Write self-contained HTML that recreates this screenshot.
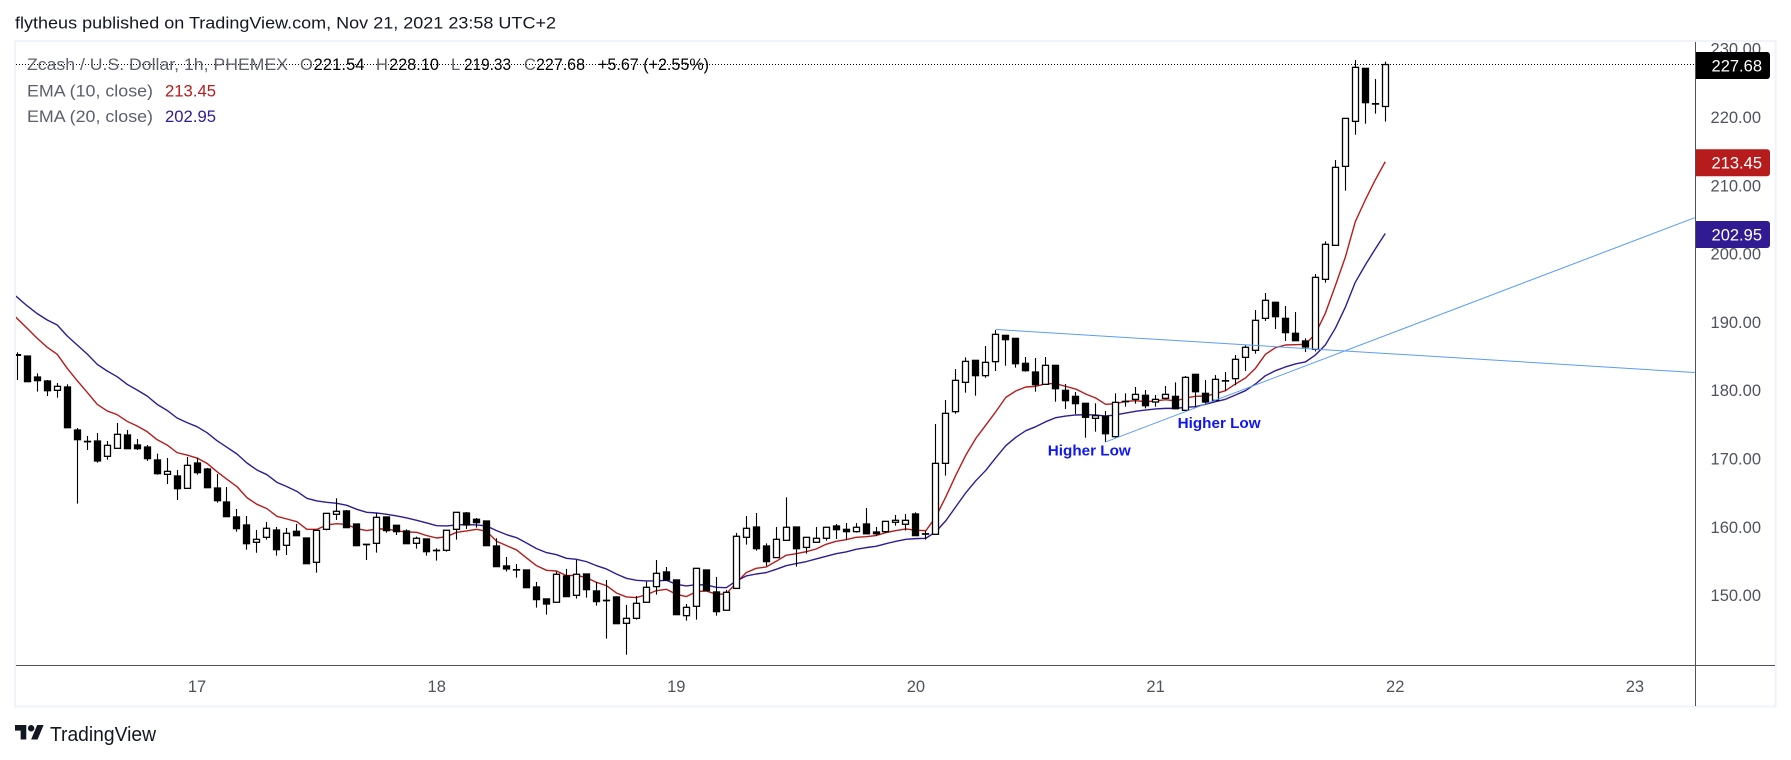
<!DOCTYPE html>
<html lang="en">
<head>
<meta charset="utf-8">
<title>ZEC/USD chart</title>
<style>
html,body{margin:0;padding:0;background:#fff;width:1791px;height:760px;overflow:hidden}
svg{display:block;position:absolute;left:0;top:0}
text{font-family:"Liberation Sans",sans-serif}
</style>
</head>
<body>
<svg id="chart" xmlns="http://www.w3.org/2000/svg" width="1791" height="760" viewBox="0 0 1791 760">
  <defs><clipPath id="pane-clip"><rect x="16" y="42" width="1679" height="623"/></clipPath></defs>
  <text x="15" y="28.5" font-size="16.5" fill="#131722" textLength="541" lengthAdjust="spacingAndGlyphs">flytheus published on TradingView.com, Nov 21, 2021 23:58 UTC+2</text>
  <rect x="15" y="41" width="1760.5" height="665.5" fill="none" stroke="#f0f3fa" stroke-width="2"/>
  <g id="pane" clip-path="url(#pane-clip)"></g>
  <line x1="16" y1="665.5" x2="1775" y2="665.5" stroke="#50535e" stroke-width="1"/>
  <line x1="1695.5" y1="42" x2="1695.5" y2="706" stroke="#50535e" stroke-width="1"/>
  <g id="axis-labels"></g>
  <g id="tags"></g>
  <g font-size="16.5">
    <text x="27" y="70" fill="#5d606b" textLength="261" lengthAdjust="spacingAndGlyphs">Zcash / U.S. Dollar, 1h, PHEMEX</text>
    <text x="300" y="70" fill="#5d606b">O</text>
    <text x="313.5" y="70" fill="#000" textLength="51" lengthAdjust="spacingAndGlyphs">221.54</text>
    <text x="376" y="70" fill="#5d606b">H</text>
    <text x="389" y="70" fill="#000" textLength="50" lengthAdjust="spacingAndGlyphs">228.10</text>
    <text x="451" y="70" fill="#5d606b">L</text>
    <text x="464" y="70" fill="#000" textLength="47" lengthAdjust="spacingAndGlyphs">219.33</text>
    <text x="524" y="70" fill="#5d606b">C</text>
    <text x="536" y="70" fill="#000" textLength="49" lengthAdjust="spacingAndGlyphs">227.68</text>
    <text x="598" y="70" fill="#000" textLength="111" lengthAdjust="spacingAndGlyphs">+5.67 (+2.55%)</text>
    <text x="27" y="96.5" fill="#5d606b" textLength="126" lengthAdjust="spacingAndGlyphs">EMA (10, close)</text>
    <text x="165" y="96.5" fill="#b71c1c" textLength="51" lengthAdjust="spacingAndGlyphs">213.45</text>
    <text x="27" y="122" fill="#5d606b" textLength="126" lengthAdjust="spacingAndGlyphs">EMA (20, close)</text>
    <text x="165" y="122" fill="#311b92" textLength="51" lengthAdjust="spacingAndGlyphs">202.95</text>
  </g>
  <g>
    <g transform="translate(15 721.8) scale(0.806)" fill="#131722">
      <path d="M14 22H7V11H0V4h14v18z"/><path d="M28 22h-8l7.5-18h8L28 22z"/><circle cx="20" cy="8" r="4"/>
    </g>
    <text x="50" y="741" font-size="20" fill="#131722" textLength="106" lengthAdjust="spacingAndGlyphs">TradingView</text>
  </g>
</svg>
<script>
const opens = [
185.2,185.0,181.93,181.35,179.98,180.47,174.17,172.51,172.56,170.32,
171.49,173.44,171.98,171.68,169.78,167.68,167.44,165.63,169.34,168.46,
165.68,163.63,161.44,160.27,157.73,158.46,159.53,157.29,159.34,158.36,
154.8,159.63,161.83,162.32,160.41,157.44,157.58,161.44,160.22,159.39,
157.58,158.22,156.56,156.56,159.63,162.02,161.1,160.85,157.19,154.27,
153.73,153.68,151.19,149.44,148.95,152.8,149.97,153.09,150.61,149.24,
149.73,145.87,146.6,148.95,151.24,153.39,152.22,146.99,148.36,153.68,
150.46,147.78,150.98,158.46,159.97,157.19,155.49,158.02,159.97,156.98,
157.73,158.32,160.12,159.63,159.29,160.41,159.24,159.29,160.66,160.37,
161.88,158.98,158.9,169.29,176.86,181.15,184.37,182.13,184.18,188.03,
187.59,183.93,182.66,180.86,183.64,179.98,179.1,178.08,175.88,176.17,
173.2,178.37,178.66,179.25,178.27,178.81,179.1,177.05,182.32,179.54,
178.51,181.4,181.69,184.81,185.84,190.52,192.87,190.52,188.33,187.21,
185.98,196.23,201.21,212.77,219.36,227.12,221.95,221.54];
const highs = [
185.54,185.0,182.47,181.49,181.05,180.86,174.47,173.29,173.73,172.56,
175.2,174.17,172.86,171.98,170.71,170.07,168.32,170.22,170.12,168.61,
167.73,165.83,162.61,161.58,159.53,160.71,159.97,159.83,160.41,158.36,
159.53,161.97,164.17,162.46,160.41,157.44,161.98,161.44,160.22,159.63,
158.56,158.22,156.85,159.54,162.12,162.17,161.29,160.85,158.32,155.58,
154.56,153.68,151.92,149.44,153.44,153.83,155.14,153.09,151.92,152.22,
149.83,148.56,149.87,151.97,155.14,154.12,152.22,148.7,153.92,153.68,
152.66,150.75,159.1,161.59,162.02,157.58,159.97,164.32,159.97,158.46,
159.97,159.93,160.41,160.56,160.56,162.76,159.97,160.8,161.73,161.88,
162.12,159.39,175.05,178.56,183.1,184.81,184.37,186.47,188.81,188.03,
187.59,184.86,184.71,184.86,183.64,180.91,179.74,178.08,178.08,176.95,
179.54,179.54,180.47,180.03,179.3,180.61,181.15,182.08,182.32,181.49,
182.22,182.67,185.16,186.57,191.74,194.23,192.87,192.33,191.45,187.6,
197.01,201.8,213.7,219.8,228.34,227.12,225.56,228.10];
const lows = [
181.49,181.25,179.79,179.15,178.91,174.51,163.39,171.25,169.39,169.83,
171.49,171.44,171.25,169.64,167.63,166.27,163.93,165.63,167.63,165.73,
163.54,161.49,159.29,156.65,156.2,158.12,155.78,155.87,158.7,154.6,
153.29,159.48,161.0,159.88,157.24,155.14,156.22,159.15,158.8,157.53,
156.8,155.78,155.05,156.36,158.12,159.68,159.88,157.24,154.17,153.44,
152.56,151.09,148.17,147.14,148.95,149.78,149.48,149.63,148.46,143.63,
145.82,141.28,146.41,148.95,150.07,152.22,147.14,146.26,146.41,150.65,
146.99,147.78,150.98,157.39,156.51,154.27,155.49,158.02,154.17,156.07,
157.73,157.97,158.22,158.12,159.15,158.98,158.71,159.1,160.17,159.44,
158.71,158.12,158.9,167.49,176.56,179.64,179.2,181.83,182.81,183.59,
183.3,182.71,179.78,180.86,178.32,177.25,176.51,173.05,173.93,172.42,
173.05,177.59,178.03,177.34,177.59,178.81,177.29,177.05,177.49,178.03,
178.51,179.93,180.72,182.81,185.35,190.13,188.96,187.21,187.25,185.59,
185.69,195.74,201.21,209.21,217.41,219.02,220.49,219.33];
const closes = [
185.1,181.25,181.4,179.93,180.57,174.51,172.76,172.51,169.64,171.93,
173.54,171.44,171.44,169.98,167.78,168.12,165.58,169.0,167.93,165.73,
163.83,161.49,159.73,157.53,158.17,159.78,156.65,159.05,158.7,154.6,
159.48,161.97,162.27,159.88,157.24,157.44,161.39,159.44,159.29,157.53,
158.32,156.36,156.56,159.49,162.12,160.27,160.61,157.24,154.17,153.83,
153.73,151.09,149.34,148.7,153.05,149.78,153.05,150.8,149.05,149.24,
145.82,146.6,148.8,151.14,153.19,152.22,147.14,148.21,153.92,150.65,
147.58,150.41,158.61,159.78,156.8,154.9,158.17,159.93,156.8,158.46,
158.32,159.93,159.58,159.29,159.93,158.98,158.98,160.8,160.95,160.95,
158.71,158.98,169.29,176.61,181.44,184.22,182.13,184.08,188.18,187.4,
183.88,182.86,180.81,183.64,180.22,178.47,178.03,176.03,176.27,173.63,
178.22,178.37,179.39,177.73,178.66,179.39,177.29,181.88,179.78,178.27,
181.59,181.4,184.52,186.28,190.23,193.16,190.77,188.43,187.25,186.33,
196.52,201.36,212.63,219.8,227.27,222.1,221.95,227.68];
// EMA series: first value belongs to the bar just before the first visible candle
const ema10 = [191.99,
190.47,189.06,187.59,186.28,185.25,183.2,181.4,179.69,177.93,176.96,
176.42,175.44,174.76,173.93,172.76,171.98,170.86,170.51,170.07,169.29,
168.07,166.95,165.88,164.27,163.29,162.66,161.53,161.14,160.75,159.63,
159.63,160.27,160.46,160.32,159.73,159.44,159.68,159.68,159.39,159.24,
159.19,158.71,158.36,158.56,159.19,159.39,159.63,159.34,157.88,157.24,
156.61,155.44,154.31,153.63,153.53,152.85,152.9,152.56,151.87,151.39,
150.31,149.73,149.63,150.07,150.65,150.85,150.12,149.78,150.51,150.61,
150.12,150.17,151.78,153.29,153.92,154.12,154.95,155.83,156.07,156.36,
156.75,157.44,157.88,158.12,158.46,158.56,158.71,159.15,159.44,159.68,
159.49,159.44,161.48,164.41,167.58,170.51,172.95,174.9,176.86,178.95,
179.88,180.47,180.56,180.95,180.95,180.56,180.17,179.44,178.86,177.93,
178.03,178.37,178.47,178.32,178.42,178.61,178.42,178.86,179.1,179.15,
179.49,179.93,180.91,181.79,183.2,185.25,186.23,186.62,186.67,186.72,
188.23,191.26,195.3,199.46,204.67,207.85,210.78,213.45];
const ema20 = [194.77,
193.6,192.33,191.21,190.28,189.55,187.94,186.62,185.3,183.79,182.81,
181.98,180.86,180.03,179.15,177.93,177.05,175.93,175.25,174.66,173.78,
172.61,171.64,170.66,169.34,168.32,167.63,166.51,165.88,165.19,164.17,
163.78,163.58,163.44,163.15,162.56,162.12,162.02,161.83,161.59,161.29,
160.95,160.56,160.17,160.12,160.27,160.32,160.27,160.12,159.44,158.85,
158.41,157.63,156.8,156.22,155.92,155.39,155.24,154.9,154.31,153.83,
153.09,152.46,152.17,152.07,152.07,152.17,151.58,151.34,151.53,151.48,
151.14,151.09,152.07,152.8,153.09,153.29,153.78,154.31,154.61,154.9,
155.29,155.68,156.07,156.32,156.71,156.95,157.15,157.53,157.88,158.17,
158.27,158.32,159.29,160.9,162.95,165.0,166.75,168.27,170.12,171.88,
173.1,174.07,174.66,175.39,175.98,176.22,176.37,176.42,176.37,176.22,
176.37,176.66,176.91,177.1,177.25,177.34,177.34,177.49,177.59,177.93,
178.32,178.67,179.3,179.93,180.91,182.12,182.86,183.4,183.84,184.13,
185.15,186.62,189.06,192.14,195.8,198.33,200.67,202.95];
const priceTicks = [230,220,210,200,190,180,170,160,150];
const dayLabels = ["17","18","19","20","21","22","23"];
const trendBars = [98,168,109,168];
const trendPrices = [188.89,182.59,172.42,205.26];
const noteBars = [103.2,116.2];
const notePrices = [171.24,175.27];

const NS = 'http://www.w3.org/2000/svg';
const BAR0 = 17.3, BAR_STEP = 9.985, P0 = 220, PY0 = 117, PPX = 6.83;
const FIRST_DAY_BAR = 18, BARS_PER_DAY = 24;
function xAt(i){ return BAR0 + i * BAR_STEP; }
function yAt(p){ return PY0 + (P0 - p) * PPX; }
function snap(v){ return Math.round(v - 0.5) + 0.5; }
function make(tag){ return document.createElementNS(NS, tag); }
const pane = document.getElementById('pane');
const axisLabels = document.getElementById('axis-labels');
const tags = document.getElementById('tags');

function drawLine(values, color, offset, root){
  const pts = values.map((v, k) => xAt(k - offset).toFixed(2) + ',' + yAt(v).toFixed(2)).join(' ');
  root.setAttribute('points', pts);
  root.setAttribute('fill', 'none');
  root.setAttribute('stroke', color);
  root.setAttribute('stroke-width', '1.4');
  root.setAttribute('stroke-linejoin', 'round');
}

const lineTen = make('polyline');


drawLine(ema10, '#b71c1c', 1, lineTen);
pane.appendChild(lineTen);

const lineTwenty = make('polyline');


drawLine(ema20, '#311b92', 1, lineTwenty);
pane.appendChild(lineTwenty);

closes.forEach((c, i) => {
  const o = opens[i], h = highs[i], l = lows[i];
  const cx = snap(xAt(i));
  const up = c >= o;
  const g = make('g');
  
  
  const wick = make('line');
  
  
  wick.setAttribute('x1', cx);
  wick.setAttribute('x2', cx);
  wick.setAttribute('y1', yAt(h).toFixed(2));
  wick.setAttribute('y2', yAt(l).toFixed(2));
  wick.setAttribute('stroke', '#000');
  wick.setAttribute('stroke-width', '1.1');
  g.appendChild(wick);
  const top = yAt(Math.max(o, c)), bot = yAt(Math.min(o, c));
  const body = make('rect');
  
  
  body.setAttribute('x', cx - 3);
  body.setAttribute('y', top.toFixed(2));
  body.setAttribute('width', 6);
  body.setAttribute('height', Math.max(bot - top, 0.4).toFixed(2));
  body.setAttribute('fill', up ? '#fff' : '#000');
  body.setAttribute('stroke', '#000');
  body.setAttribute('stroke-width', '1.3');
  g.appendChild(body);
  pane.appendChild(g);
});

for (let t = 0; t < trendBars.length; t += 2) {
  const line = make('line');
  
  
  line.setAttribute('x1', xAt(trendBars[t]).toFixed(2));
  line.setAttribute('y1', yAt(trendPrices[t]).toFixed(2));
  line.setAttribute('x2', xAt(trendBars[t + 1]).toFixed(2));
  line.setAttribute('y2', yAt(trendPrices[t + 1]).toFixed(2));
  line.setAttribute('stroke', '#5b9cf6');
  line.setAttribute('stroke-width', '1');
  pane.appendChild(line);
}

const lastClose = make('line');


lastClose.setAttribute('x1', 16);
lastClose.setAttribute('x2', 1695);
lastClose.setAttribute('y1', snap(yAt(closes[closes.length - 1])));
lastClose.setAttribute('y2', snap(yAt(closes[closes.length - 1])));
lastClose.setAttribute('stroke', '#000');
lastClose.setAttribute('stroke-width', '1');
lastClose.setAttribute('stroke-dasharray', '1 2');
pane.appendChild(lastClose);

noteBars.forEach((b, i) => {
  const note = make('text');
  
  
  note.setAttribute('x', xAt(b).toFixed(1));
  note.setAttribute('y', (yAt(notePrices[i]) + 5.5).toFixed(1));
  note.setAttribute('font-size', '15');
  note.setAttribute('font-weight', '700');
  note.setAttribute('fill', '#0f17ee');
  note.setAttribute('textLength', '83');
  note.setAttribute('lengthAdjust', 'spacingAndGlyphs');
  note.textContent = 'Higher Low';
  pane.appendChild(note);
});

priceTicks.forEach(p => {
  const label = make('text');
  
  
  label.setAttribute('x', 1761);
  label.setAttribute('y', (yAt(p) + 6).toFixed(1));
  label.setAttribute('text-anchor', 'end');
  label.setAttribute('font-size', '16.5');
  label.setAttribute('fill', '#50535e');
  label.textContent = p.toFixed(2);
  axisLabels.appendChild(label);
});

dayLabels.forEach((d, i) => {
  const label = make('text');
  
  
  label.setAttribute('x', xAt(FIRST_DAY_BAR + i * BARS_PER_DAY).toFixed(1));
  label.setAttribute('y', 692);
  label.setAttribute('text-anchor', 'middle');
  label.setAttribute('font-size', '16.5');
  label.setAttribute('fill', '#50535e');
  label.textContent = d;
  axisLabels.appendChild(label);
});

const tagValues = [closes[closes.length - 1], ema10[ema10.length - 1], ema20[ema20.length - 1]];
const tagColors = ['#000000', '#b71c1c', '#311b92'];
tagValues.forEach((v, i) => {
  const cy = yAt(v) + 1;
  const bg = make('path');
  
  
  bg.setAttribute('d', 'M1696 ' + (cy - 13.5).toFixed(1) + 'H1767a3 3 0 0 1 3 3V' + (cy + 10.5).toFixed(1) + 'a3 3 0 0 1 -3 3H1696Z');
  bg.setAttribute('fill', tagColors[i]);
  tags.appendChild(bg);
  const label = make('text');
  
  
  label.setAttribute('x', 1762);
  label.setAttribute('y', (cy + 6).toFixed(1));
  label.setAttribute('text-anchor', 'end');
  label.setAttribute('font-size', '16.5');
  label.setAttribute('fill', '#ffffff');
  label.textContent = v.toFixed(2);
  tags.appendChild(label);
});
</script>
</body>
</html>
